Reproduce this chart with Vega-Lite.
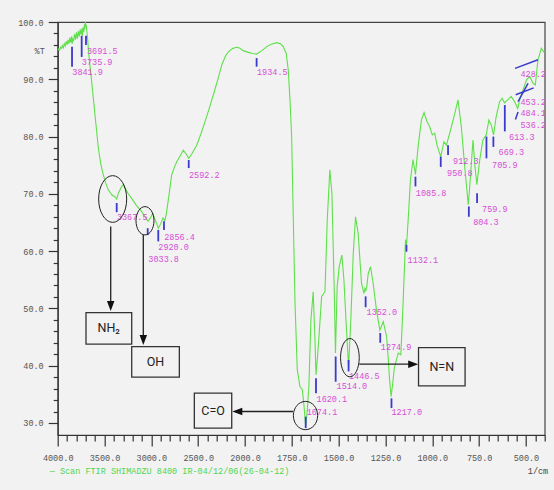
{
  "$schema": "https://vega.github.io/schema/vega-lite/v6.json",
  "width": 487,
  "height": 413,
  "autosize": {"type": "none"},
  "padding": {"left": 57.7, "top": 22, "right": 9.3, "bottom": 55},
  "background": "#f2f2f2",
  "title": {
    "text": "— Scan FTIR SHIMADZU 8400  IR-04/12/06(26-04-12)",
    "orient": "bottom",
    "anchor": "start",
    "frame": "group",
    "font": "Liberation Mono",
    "fontSize": 8.5,
    "fontWeight": "normal",
    "color": "#4fd64f",
    "dx": -8,
    "dy": -8,
    "offset": 0
  },
  "config": {
    "view": {"stroke": "#444", "strokeWidth": 1.2, "fill": "#f2f2f2"},
    "axis": {"grid": false}
  },
  "resolve": {"scale": {"shape": "independent"}},
  "datasets": {
    "spectrum": [
      {"wn": 4000, "t": 95.0}, {"wn": 3990, "t": 95.3}, {"wn": 3980, "t": 95.1}, {"wn": 3970, "t": 95.6},
      {"wn": 3960, "t": 95.4}, {"wn": 3950, "t": 95.9}, {"wn": 3940, "t": 95.5}, {"wn": 3930, "t": 96.2},
      {"wn": 3920, "t": 95.8}, {"wn": 3910, "t": 96.6}, {"wn": 3900, "t": 96.0}, {"wn": 3890, "t": 96.9},
      {"wn": 3880, "t": 96.2}, {"wn": 3870, "t": 97.3}, {"wn": 3860, "t": 96.4}, {"wn": 3850, "t": 97.5},
      {"wn": 3845, "t": 96.2}, {"wn": 3840, "t": 97.0}, {"wn": 3830, "t": 96.8}, {"wn": 3820, "t": 97.9},
      {"wn": 3810, "t": 96.9}, {"wn": 3800, "t": 98.2}, {"wn": 3790, "t": 97.1}, {"wn": 3780, "t": 98.4},
      {"wn": 3770, "t": 97.5}, {"wn": 3760, "t": 98.7}, {"wn": 3750, "t": 97.8}, {"wn": 3740, "t": 98.9},
      {"wn": 3735, "t": 97.6}, {"wn": 3730, "t": 99.0}, {"wn": 3720, "t": 98.3}, {"wn": 3715, "t": 99.6},
      {"wn": 3710, "t": 98.8}, {"wn": 3705, "t": 100.0}, {"wn": 3700, "t": 99.2}, {"wn": 3695, "t": 99.5},
      {"wn": 3690, "t": 98.6}, {"wn": 3680, "t": 97.0}, {"wn": 3673, "t": 95.4}, {"wn": 3660, "t": 93.0},
      {"wn": 3637, "t": 89.6}, {"wn": 3602, "t": 83.8}, {"wn": 3566, "t": 78.0}, {"wn": 3540, "t": 75.2},
      {"wn": 3513, "t": 73.3}, {"wn": 3490, "t": 72.0}, {"wn": 3460, "t": 70.7}, {"wn": 3420, "t": 69.8},
      {"wn": 3390, "t": 69.5}, {"wn": 3370, "t": 69.1}, {"wn": 3350, "t": 70.2}, {"wn": 3320, "t": 71.2},
      {"wn": 3300, "t": 71.6}, {"wn": 3280, "t": 71.0}, {"wn": 3250, "t": 70.1}, {"wn": 3210, "t": 69.2},
      {"wn": 3160, "t": 68.0}, {"wn": 3103, "t": 66.9}, {"wn": 3060, "t": 65.8}, {"wn": 3035, "t": 65.2},
      {"wn": 3010, "t": 65.8}, {"wn": 2985, "t": 66.6}, {"wn": 2960, "t": 65.5}, {"wn": 2925, "t": 64.0},
      {"wn": 2900, "t": 64.8}, {"wn": 2875, "t": 65.8}, {"wn": 2856, "t": 65.3}, {"wn": 2840, "t": 66.5},
      {"wn": 2810, "t": 70.0}, {"wn": 2783, "t": 73.3}, {"wn": 2750, "t": 74.8}, {"wn": 2729, "t": 75.6},
      {"wn": 2690, "t": 76.7}, {"wn": 2659, "t": 77.6}, {"wn": 2630, "t": 77.0}, {"wn": 2600, "t": 76.2},
      {"wn": 2570, "t": 76.9}, {"wn": 2516, "t": 78.5}, {"wn": 2470, "t": 80.5}, {"wn": 2427, "t": 82.6},
      {"wn": 2380, "t": 85.0}, {"wn": 2338, "t": 87.3}, {"wn": 2290, "t": 90.0}, {"wn": 2248, "t": 92.5},
      {"wn": 2210, "t": 94.0}, {"wn": 2178, "t": 94.8}, {"wn": 2130, "t": 95.4}, {"wn": 2088, "t": 95.6},
      {"wn": 2053, "t": 95.4}, {"wn": 2020, "t": 95.0}, {"wn": 1982, "t": 94.7}, {"wn": 1960, "t": 94.5},
      {"wn": 1938, "t": 94.4}, {"wn": 1910, "t": 95.0}, {"wn": 1884, "t": 95.7}, {"wn": 1860, "t": 96.1},
      {"wn": 1831, "t": 96.4}, {"wn": 1810, "t": 96.2}, {"wn": 1796, "t": 95.7}, {"wn": 1780, "t": 94.5},
      {"wn": 1769, "t": 91.6}, {"wn": 1760, "t": 86.5}, {"wn": 1751, "t": 80.0}, {"wn": 1742, "t": 65.4},
      {"wn": 1733, "t": 51.0}, {"wn": 1721, "t": 39.3}, {"wn": 1707, "t": 36.4}, {"wn": 1694, "t": 35.8},
      {"wn": 1685, "t": 33.0}, {"wn": 1676, "t": 29.4}, {"wn": 1668, "t": 32.0}, {"wn": 1659, "t": 36.4},
      {"wn": 1648, "t": 48.0}, {"wn": 1636, "t": 52.9}, {"wn": 1627, "t": 45.1}, {"wn": 1621, "t": 38.4},
      {"wn": 1613, "t": 41.5}, {"wn": 1605, "t": 45.1}, {"wn": 1591, "t": 52.1}, {"wn": 1580, "t": 52.6},
      {"wn": 1573, "t": 52.9}, {"wn": 1561, "t": 65.4}, {"wn": 1547, "t": 74.2}, {"wn": 1536, "t": 70.1},
      {"wn": 1524, "t": 53.8}, {"wn": 1517, "t": 42.2}, {"wn": 1508, "t": 53.8}, {"wn": 1497, "t": 57.3},
      {"wn": 1483, "t": 59.3}, {"wn": 1472, "t": 55.0}, {"wn": 1458, "t": 46.2}, {"wn": 1447, "t": 39.8},
      {"wn": 1435, "t": 48.0}, {"wn": 1422, "t": 59.6}, {"wn": 1410, "t": 66.0}, {"wn": 1396, "t": 63.1},
      {"wn": 1378, "t": 54.4}, {"wn": 1365, "t": 52.6}, {"wn": 1360, "t": 53.5}, {"wn": 1355, "t": 53.1},
      {"wn": 1350, "t": 53.8}, {"wn": 1342, "t": 56.1}, {"wn": 1330, "t": 57.3}, {"wn": 1316, "t": 54.4},
      {"wn": 1298, "t": 49.7}, {"wn": 1280, "t": 46.2}, {"wn": 1262, "t": 47.7}, {"wn": 1244, "t": 45.1},
      {"wn": 1236, "t": 41.6}, {"wn": 1228, "t": 37.5}, {"wn": 1220, "t": 34.6}, {"wn": 1211, "t": 37.0},
      {"wn": 1203, "t": 39.6}, {"wn": 1182, "t": 42.2}, {"wn": 1168, "t": 41.9}, {"wn": 1156, "t": 50.9},
      {"wn": 1143, "t": 62.0}, {"wn": 1138, "t": 60.8}, {"wn": 1129, "t": 65.4}, {"wn": 1117, "t": 72.4},
      {"wn": 1103, "t": 76.0}, {"wn": 1090, "t": 73.4}, {"wn": 1076, "t": 78.2}, {"wn": 1058, "t": 82.9},
      {"wn": 1044, "t": 84.2}, {"wn": 1028, "t": 82.6}, {"wn": 1014, "t": 81.7}, {"wn": 1000, "t": 80.3},
      {"wn": 987, "t": 80.6}, {"wn": 975, "t": 78.5}, {"wn": 955, "t": 76.5}, {"wn": 938, "t": 79.1},
      {"wn": 925, "t": 78.5}, {"wn": 907, "t": 80.6}, {"wn": 884, "t": 83.5}, {"wn": 863, "t": 86.4},
      {"wn": 845, "t": 81.7}, {"wn": 827, "t": 74.7}, {"wn": 808, "t": 68.1}, {"wn": 795, "t": 73.6},
      {"wn": 783, "t": 79.4}, {"wn": 772, "t": 74.7}, {"wn": 762, "t": 71.6}, {"wn": 747, "t": 75.9},
      {"wn": 730, "t": 79.4}, {"wn": 712, "t": 80.3}, {"wn": 698, "t": 82.9}, {"wn": 685, "t": 82.0},
      {"wn": 673, "t": 80.3}, {"wn": 659, "t": 83.5}, {"wn": 641, "t": 86.1}, {"wn": 627, "t": 86.7},
      {"wn": 615, "t": 85.9}, {"wn": 597, "t": 86.4}, {"wn": 579, "t": 87.0}, {"wn": 561, "t": 86.1},
      {"wn": 544, "t": 84.9}, {"wn": 531, "t": 86.7}, {"wn": 516, "t": 88.1}, {"wn": 497, "t": 89.9},
      {"wn": 480, "t": 90.5}, {"wn": 462, "t": 89.3}, {"wn": 450, "t": 89.0}, {"wn": 436, "t": 93.4},
      {"wn": 418, "t": 95.4}, {"wn": 405, "t": 94.8}, {"wn": 400, "t": 95.0}
    ],
    "peaks": [
      {"label": "3841.9", "tx": 3847, "t1": 95.7, "t2": 92.2, "lx": 3844, "ly": 91.2},
      {"label": "3735.9", "tx": 3744, "t1": 97.6, "t2": 93.9, "lx": 3742, "ly": 93.1},
      {"label": "3691.5", "tx": 3698, "t1": 97.6, "t2": 96.0, "lx": 3687, "ly": 95.0},
      {"label": "3367.5", "tx": 3370, "t1": 68.4, "t2": 66.8, "lx": 3368, "ly": 65.9},
      {"label": "3033.8", "tx": 3039, "t1": 64.0, "t2": 62.8, "lx": 3032, "ly": 58.6},
      {"label": "2920.0", "tx": 2926, "t1": 63.7, "t2": 61.7, "lx": 2926, "ly": 60.7},
      {"label": "2856.4", "tx": 2865, "t1": 65.2, "t2": 63.7, "lx": 2862, "ly": 62.4},
      {"label": "2592.2", "tx": 2601, "t1": 75.9, "t2": 74.5, "lx": 2598, "ly": 73.3},
      {"label": "1934.5", "tx": 1938, "t1": 93.7, "t2": 92.2, "lx": 1936, "ly": 91.2},
      {"label": "1674.1", "tx": 1676, "t1": 31.1, "t2": 29.1, "lx": 1671, "ly": 32.0},
      {"label": "1620.1", "tx": 1621, "t1": 37.8, "t2": 35.2, "lx": 1618, "ly": 34.2},
      {"label": "1514.0", "tx": 1516, "t1": 41.6, "t2": 37.2, "lx": 1511, "ly": 36.4},
      {"label": "1446.5", "tx": 1447, "t1": 41.0, "t2": 39.0, "lx": 1445, "ly": 38.2},
      {"label": "1352.0", "tx": 1356, "t1": 52.1, "t2": 50.2, "lx": 1351, "ly": 49.3},
      {"label": "1274.9", "tx": 1278, "t1": 45.7, "t2": 44.0, "lx": 1275, "ly": 43.2},
      {"label": "1217.0", "tx": 1218, "t1": 34.3, "t2": 32.6, "lx": 1218, "ly": 32.0},
      {"label": "1132.1", "tx": 1138, "t1": 61.1, "t2": 59.9, "lx": 1132, "ly": 58.5},
      {"label": "1085.8", "tx": 1090, "t1": 73.0, "t2": 71.3, "lx": 1088, "ly": 70.1},
      {"label": "950.8", "tx": 955, "t1": 76.5, "t2": 74.7, "lx": 921, "ly": 73.6},
      {"label": "912.3", "tx": 916, "t1": 78.5, "t2": 76.8, "lx": 889, "ly": 75.8},
      {"label": "804.3", "tx": 805, "t1": 67.8, "t2": 66.0, "lx": 782, "ly": 65.0},
      {"label": "759.9", "tx": 761, "t1": 70.1, "t2": 68.4, "lx": 734.5, "ly": 67.4},
      {"label": "705.9", "tx": 711, "t1": 80.0, "t2": 76.2, "lx": 681, "ly": 75.0},
      {"label": "669.3", "tx": 674, "t1": 80.0, "t2": 78.2, "lx": 646, "ly": 77.3},
      {"label": "613.3", "tx": 613, "t1": 85.5, "t2": 80.9, "lx": 590, "ly": 79.9}
    ],
    "leaders": [
      {"label": "428.2", "x1": 558.4, "y1": 91.9, "x2": 435.8, "y2": 93.4, "lx": 529.6, "ly": 90.9},
      {"label": "453.2", "x1": 554.7, "y1": 87.3, "x2": 458.7, "y2": 88.5, "lx": 529.6, "ly": 86.1},
      {"label": "484.1", "x1": 542.4, "y1": 86.1, "x2": 489.0, "y2": 89.3, "lx": 529.6, "ly": 84.1},
      {"label": "536.2", "x1": 556.3, "y1": 83.0, "x2": 542.4, "y2": 84.3, "lx": 529.6, "ly": 82.0}
    ],
    "ellipses": [
      {"id": "a", "wn": 3413, "t": 69.1},
      {"id": "b", "wn": 3068, "t": 65.3},
      {"id": "c", "wn": 1677, "t": 31.3},
      {"id": "d", "wn": 1440, "t": 41.4}
    ],
    "boxes": [
      {"label": "NH₂", "x1": 3697.8, "x2": 3209.7, "y1": 49.27, "y2": 43.75, "cx": 3455, "cy": 46.5},
      {"label": "OH", "x1": 3209.7, "x2": 2701, "y1": 43.33, "y2": 37.99, "cx": 2955.5, "cy": 40.66},
      {"label": "C=O", "x1": 2541, "x2": 2141.7, "y1": 35.2, "y2": 29.1, "cx": 2341, "cy": 32.15},
      {"label": "N=N", "x1": 1073.6, "x2": 825.1, "y1": 43.16, "y2": 36.47, "cx": 949.4, "cy": 39.83}
    ],
    "arrows": [
      {"x1": 3434, "x2": 3434, "y1": 64.3, "y2": 50.44, "dir": "down", "hx": 3434, "hy": 50.44},
      {"x1": 3086, "x2": 3086, "y1": 62.8, "y2": 44.5, "dir": "down", "hx": 3086, "hy": 44.5},
      {"x1": 1744, "x2": 2082, "y1": 32.0, "y2": 32.0, "dir": "left", "hx": 2082, "hy": 32.0},
      {"x1": 1390, "x2": 1102, "y1": 40.26, "y2": 40.26, "dir": "right", "hx": 1102, "hy": 40.26}
    ]
  },
  "encoding": {
    "x": {
      "field": "wn",
      "type": "quantitative",
      "scale": {"type": "linear", "domain": [4000, 2000, 400], "range": [0, 187.3, 487], "zero": false, "nice": false, "clamp": false},
      "axis": {
        "values": [4000, 3900, 3800, 3700, 3600, 3500, 3400, 3300, 3200, 3100, 3000, 2900, 2800, 2700, 2600, 2500, 2400, 2300, 2200, 2100, 2000, 1950, 1900, 1850, 1800, 1750, 1700, 1650, 1600, 1550, 1500, 1450, 1400, 1350, 1300, 1250, 1200, 1150, 1100, 1050, 1000, 950, 900, 850, 800, 750, 700, 650, 600, 550, 500, 450, 400],
        "labelExpr": "((datum.value >= 2000 && datum.value % 500 === 0) || (datum.value < 2000 && datum.value % 250 === 0)) ? format(datum.value, '.1f') : ''",
        "tickSize": {"condition": {"test": "(datum.value >= 2000 && datum.value % 500 === 0) || (datum.value < 2000 && datum.value % 250 === 0)", "value": 11}, "value": 6},
        "tickColor": "#333",
        "tickWidth": 1.2,
        "domainColor": "#333",
        "domainWidth": 1.2,
        "labelFont": "Liberation Mono",
        "labelFontSize": 8.5,
        "labelColor": "#555",
        "labelPadding": 7,
        "labelFlush": false,
        "labelOverlap": false,
        "title": "1/cm",
        "titleX": 490,
        "titleY": 35,
        "titleAlign": "right",
        "titleBaseline": "middle",
        "titleFont": "Liberation Mono",
        "titleFontSize": 8.5,
        "titleFontWeight": "normal",
        "titleColor": "#444"
      }
    },
    "y": {
      "field": "t",
      "type": "quantitative",
      "scale": {"domain": [27.9, 100], "zero": false, "nice": false},
      "axis": {
        "values": [30, 32, 34, 36, 38, 40, 42, 44, 46, 48, 50, 52, 54, 56, 58, 60, 62, 64, 66, 68, 70, 72, 74, 76, 78, 80, 82, 84, 86, 88, 90, 92, 94, 96, 98, 100],
        "labelExpr": "datum.value % 10 === 0 ? format(datum.value, '.1f') : ''",
        "tickSize": {"condition": {"test": "datum.value % 10 === 0", "value": 9.5}, "value": 4.5},
        "tickColor": "#333",
        "tickWidth": 1.2,
        "domainColor": "#333",
        "domainWidth": 1.2,
        "labelFont": "Liberation Mono",
        "labelFontSize": 8.5,
        "labelColor": "#555",
        "labelPadding": 5,
        "labelOverlap": false,
        "labelBaseline": "middle",
        "title": "%T",
        "titleAngle": 0,
        "titleX": -18.5,
        "titleY": 28.7,
        "titleAlign": "center",
        "titleBaseline": "middle",
        "titleFont": "Liberation Mono",
        "titleFontSize": 8.5,
        "titleFontWeight": "normal",
        "titleColor": "#555"
      }
    }
  },
  "layer": [
    {
      "data": {"name": "spectrum"},
      "mark": {"type": "line", "color": "#5ee04a", "strokeWidth": 1.1, "clip": true}
    },
    {
      "data": {"name": "peaks"},
      "mark": {"type": "rule", "color": "#3a3acc", "strokeWidth": 1.8},
      "encoding": {
        "x": {"field": "tx", "type": "quantitative"},
        "y": {"field": "t1", "type": "quantitative"},
        "y2": {"field": "t2"}
      }
    },
    {
      "data": {"name": "peaks"},
      "mark": {"type": "text", "align": "left", "baseline": "middle", "font": "Liberation Mono", "fontSize": 8.5, "color": "#d64ed6"},
      "encoding": {
        "x": {"field": "lx", "type": "quantitative"},
        "y": {"field": "ly", "type": "quantitative"},
        "text": {"field": "label"}
      }
    },
    {
      "data": {"name": "leaders"},
      "mark": {"type": "rule", "color": "#3a3acc", "strokeWidth": 1.5},
      "encoding": {
        "x": {"field": "x1", "type": "quantitative"},
        "x2": {"field": "x2"},
        "y": {"field": "y1", "type": "quantitative"},
        "y2": {"field": "y2"}
      }
    },
    {
      "data": {"name": "leaders"},
      "mark": {"type": "text", "align": "left", "baseline": "middle", "font": "Liberation Mono", "fontSize": 8.5, "color": "#d64ed6", "clip": true},
      "encoding": {
        "x": {"field": "lx", "type": "quantitative"},
        "y": {"field": "ly", "type": "quantitative"},
        "text": {"field": "label"}
      }
    },
    {
      "data": {"name": "ellipses"},
      "mark": {"type": "point", "filled": false, "stroke": "#222", "strokeWidth": 1, "size": 2181, "opacity": 1},
      "encoding": {
        "shape": {
          "field": "id",
          "type": "nominal",
          "legend": null,
          "scale": {
            "domain": ["a", "b", "c", "d"],
            "range": [
              "M 0.6 0 C 0.6 0.552 0.331 1 0 1 C -0.331 1 -0.6 0.552 -0.6 0 C -0.6 -0.552 -0.331 -1 0 -1 C 0.331 -1 0.6 -0.552 0.6 0 Z",
              "M 0.385 0 C 0.385 0.335 0.213 0.606 0 0.606 C -0.213 0.606 -0.385 0.335 -0.385 0 C -0.385 -0.335 -0.213 -0.606 0 -0.606 C 0.213 -0.606 0.385 -0.335 0.385 0 Z",
              "M 0.52 0 C 0.52 0.335 0.287 0.606 0 0.606 C -0.287 0.606 -0.52 0.335 -0.52 0 C -0.52 -0.335 -0.287 -0.606 0 -0.606 C 0.287 -0.606 0.52 -0.335 0.52 0 Z",
              "M 0.4 0 C 0.4 0.453 0.221 0.82 0 0.82 C -0.221 0.82 -0.4 0.453 -0.4 0 C -0.4 -0.453 -0.221 -0.82 0 -0.82 C 0.221 -0.82 0.4 -0.453 0.4 0 Z"
            ]
          }
        }
      }
    },
    {
      "data": {"name": "boxes"},
      "mark": {"type": "rect", "fill": "#f2f2f2", "stroke": "#333", "strokeWidth": 1.3},
      "encoding": {
        "x": {"field": "x1", "type": "quantitative"},
        "x2": {"field": "x2"},
        "y": {"field": "y1", "type": "quantitative"},
        "y2": {"field": "y2"}
      }
    },
    {
      "data": {"name": "boxes"},
      "mark": {"type": "text", "align": "center", "baseline": "middle", "font": "Roboto", "fontSize": 12.5, "color": "#222"},
      "encoding": {
        "x": {"field": "cx", "type": "quantitative"},
        "y": {"field": "cy", "type": "quantitative"},
        "text": {"field": "label"}
      }
    },
    {
      "data": {"name": "arrows"},
      "mark": {"type": "rule", "color": "#222", "strokeWidth": 1.3},
      "encoding": {
        "x": {"field": "x1", "type": "quantitative"},
        "x2": {"field": "x2"},
        "y": {"field": "y1", "type": "quantitative"},
        "y2": {"field": "y2"}
      }
    },
    {
      "data": {"name": "arrows"},
      "mark": {"type": "point", "filled": true, "color": "#111", "size": 100, "opacity": 1, "strokeWidth": 0},
      "encoding": {
        "x": {"field": "hx", "type": "quantitative"},
        "y": {"field": "hy", "type": "quantitative"},
        "shape": {
          "field": "dir",
          "type": "nominal",
          "legend": null,
          "scale": {
            "domain": ["down", "left", "right"],
            "range": ["M -0.75 -1 L 0.75 -1 L 0 1 Z", "M 1 -0.75 L 1 0.75 L -1 0 Z", "M -1 -0.75 L -1 0.75 L 1 0 Z"]
          }
        }
      }
    }
  ]
}
